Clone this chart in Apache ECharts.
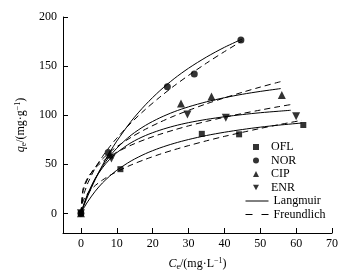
<!DOCTYPE html>
<html><head><meta charset="utf-8">
<script src="https://cdn.jsdelivr.net/npm/echarts@6/dist/echarts.min.js"></script>
<style>html,body{margin:0;padding:0;background:#fff}#c{width:361px;height:276px}</style>
</head><body><div id="c"></div>
<script>
// Measured points (Ce, qe)
const oflPoints = [[0,0],[11,45],[33.7,81],[44.1,80.5],[62,90]];
const norPoints = [[0,0],[7.6,62],[24.1,129],[31.6,142],[44.6,176.5]];
const cipPoints = [[0,0],[8,60],[27.9,112],[36.4,119],[56,120.5]];
const enrPoints = [[0,0],[8.5,56],[29.7,100.7],[40.4,97.3],[60,99]];

// Curves
const oflLangmuirC = [0,1,2,4,6,8,10,14,18,22,26,30,35,40,45,50,55,61.5];
const oflLangmuirQ = [0,6.6,12.5,22.6,31.0,37.9,43.9,53.4,60.8,66.6,71.3,75.2,79.3,82.6,85.4,87.8,89.8,92.0];
const oflFreundC = [0,0.5,1,2,4,6,8,10,14,18,22,26,30,35,40,45,50,55,61.5];
const oflFreundQ = [0,11.3,15.4,20.9,28.4,33.9,38.5,42.5,49.3,55.1,60.2,64.8,69.0,73.9,78.4,82.5,86.5,90.2,94.7];

const norLangmuirC = [0,1,2,4,6,8,10,14,18,22,26,30,35,40,45];
const norLangmuirQ = [0,9.5,18.4,34.6,49.0,62.0,73.6,93.8,110.6,124.9,137.2,147.8,159.2,169.1,177.6];
const norFreundC = [0,0.5,1,2,4,6,8,10,14,18,22,26,30,35,40,45];
const norFreundQ = [0,14.7,21.5,31.5,46.2,57.8,67.8,76.6,92.3,106.0,118.4,129.9,140.5,153.0,164.7,175.8];

const cipLangmuirC = [0,1,2,4,6,8,10,14,18,22,26,30,35,40,45,50,55.7];
const cipLangmuirQ = [0,10.7,20.0,35.5,47.9,58.0,66.4,79.7,89.6,97.3,103.5,108.5,113.6,117.8,121.3,124.2,127.1];
const cipFreundC = [0,0.5,1,2,4,6,8,10,14,18,22,26,30,35,40,45,50,55.7];
const cipFreundQ = [0,20.7,27.2,35.8,47.2,55.4,62.1,67.9,77.5,85.7,92.8,99.2,104.9,111.6,117.6,123.3,128.6,134.2];

const enrLangmuirC = [0,1,2,4,6,8,10,14,18,22,26,30,35,40,45,50,55,58.5];
const enrLangmuirQ = [0,11.3,20.7,35.4,46.4,55.0,61.8,72.0,79.3,84.7,89.0,92.4,95.7,98.4,100.6,102.5,104.0,105.0];
const enrFreundC = [0,0.5,1,2,4,6,8,10,14,18,22,26,30,35,40,45,50,55,58.5];
const enrFreundQ = [0,23.5,29.4,36.9,46.2,52.7,57.9,62.3,69.5,75.4,80.5,85.0,89.1,93.7,97.9,101.7,105.2,108.6,110.8];

const xTicks = [0,10,20,30,40,50,60,70];
const yTicks = [0,50,100,150,200];
const markerNames = ['OFL','NOR','CIP','ENR'];
const modelNames = ['Langmuir','Freundlich'];

const FONT = '"Liberation Serif","Times New Roman",serif';
const zip = (a,b) => a.map((v,i)=>[v,b[i]]);
const DOWN_TRI = 'path://M0,0 L10,0 L5,9 Z';
const symbolsFor = {OFL: 'rect', NOR: 'circle', CIP: 'triangle', ENR: DOWN_TRI};

function curve(name, xs, ys, dashed) {
  return {
    name: name, type: 'line', data: zip(xs, ys), smooth: 0.3, symbol: 'none', showSymbol: false,
    lineStyle: {color: '#000', width: 1, type: dashed ? [6,4] : 'solid'},
    itemStyle: {color: '#000'}, z: 2, silent: true, animation: false
  };
}
function pts(name, data, size) {
  return {
    name: name, type: 'scatter', data: data, symbol: symbolsFor[name], symbolSize: size,
    itemStyle: {color: '#000'}, z: 5, animation: false
  };
}
const richName = {
  i: {fontStyle: 'italic', fontSize: 12, fontFamily: FONT, color: '#000'},
  sub: {fontSize: 8, fontFamily: FONT, color: '#000', padding: [7,0,0,0]},
  sup: {fontSize: 8, fontFamily: FONT, color: '#000', padding: [0,0,6,0]}
};

const chart = echarts.init(document.getElementById('c'), null, {renderer: 'canvas'});
chart.setOption({
  backgroundColor: '#fff',
  animation: false,
  textStyle: {fontFamily: FONT},
  grid: {left: 63, right: 29, top: 17, bottom: 42, containLabel: false},
  legend: [{
    data: markerNames.map(n => ({name: n, icon: symbolsFor[n]})),
    orient: 'vertical', left: 253, top: 141,
    itemWidth: 6, itemHeight: 6, itemGap: 1.5, padding: 0,
    selectedMode: false,
    textStyle: {fontFamily: FONT, fontSize: 12, color: '#000', padding: [0,0,0,7]}
  }, {
    data: [
      {name: 'Langmuir', lineStyle: {type: 'solid'}},
      {name: 'Freundlich', lineStyle: {type: [7, 9]}}
    ],
    orient: 'vertical', left: 245, top: 195,
    itemWidth: 23, itemHeight: 6, itemGap: 1.5, padding: 0,
    selectedMode: false,
    itemStyle: {color: 'rgba(0,0,0,0)', borderWidth: 0, opacity: 0},
    lineStyle: {color: '#000', width: 1},
    textStyle: {fontFamily: FONT, fontSize: 12, color: '#000'}
  }],
  xAxis: {
    type: 'value', min: -5, max: 70,
    axisLine: {onZero: false, lineStyle: {color: '#000', width: 1}},
    axisTick: {inside: true, length: 5, customValues: xTicks, lineStyle: {color: '#000'}},
    axisLabel: {customValues: xTicks, color: '#000', fontSize: 12, fontFamily: FONT, margin: 5},
    splitLine: {show: false},
    name: '{i|C}{sub|e}/(mg·L{sup|−1})', nameLocation: 'middle', nameGap: 23,
    nameTextStyle: {color: '#000', fontSize: 12, fontFamily: FONT, rich: richName}
  },
  yAxis: {
    type: 'value', min: -20, max: 200,
    axisLine: {onZero: false, lineStyle: {color: '#000', width: 1}},
    axisTick: {inside: true, length: 5, customValues: yTicks, lineStyle: {color: '#000'}},
    axisLabel: {customValues: yTicks, color: '#000', fontSize: 12, fontFamily: FONT, margin: 6},
    splitLine: {show: false},
    name: '{i|q}{sub|e}/(mg·g{sup|−1})', nameLocation: 'middle', nameGap: 29, nameRotate: 90,
    nameTextStyle: {color: '#000', fontSize: 12, fontFamily: FONT, rich: richName}
  },
  series: [
    pts('OFL', oflPoints, 6),
    pts('NOR', norPoints, 7),
    pts('CIP', cipPoints, 8),
    pts('ENR', enrPoints, 8),
    curve('Langmuir', oflLangmuirC, oflLangmuirQ, false),
    curve('Langmuir', norLangmuirC, norLangmuirQ, false),
    curve('Langmuir', cipLangmuirC, cipLangmuirQ, false),
    curve('Langmuir', enrLangmuirC, enrLangmuirQ, false),
    curve('Freundlich', oflFreundC, oflFreundQ, true),
    curve('Freundlich', norFreundC, norFreundQ, true),
    curve('Freundlich', cipFreundC, cipFreundQ, true),
    curve('Freundlich', enrFreundC, enrFreundQ, true)
  ]
});
</script></body></html>
